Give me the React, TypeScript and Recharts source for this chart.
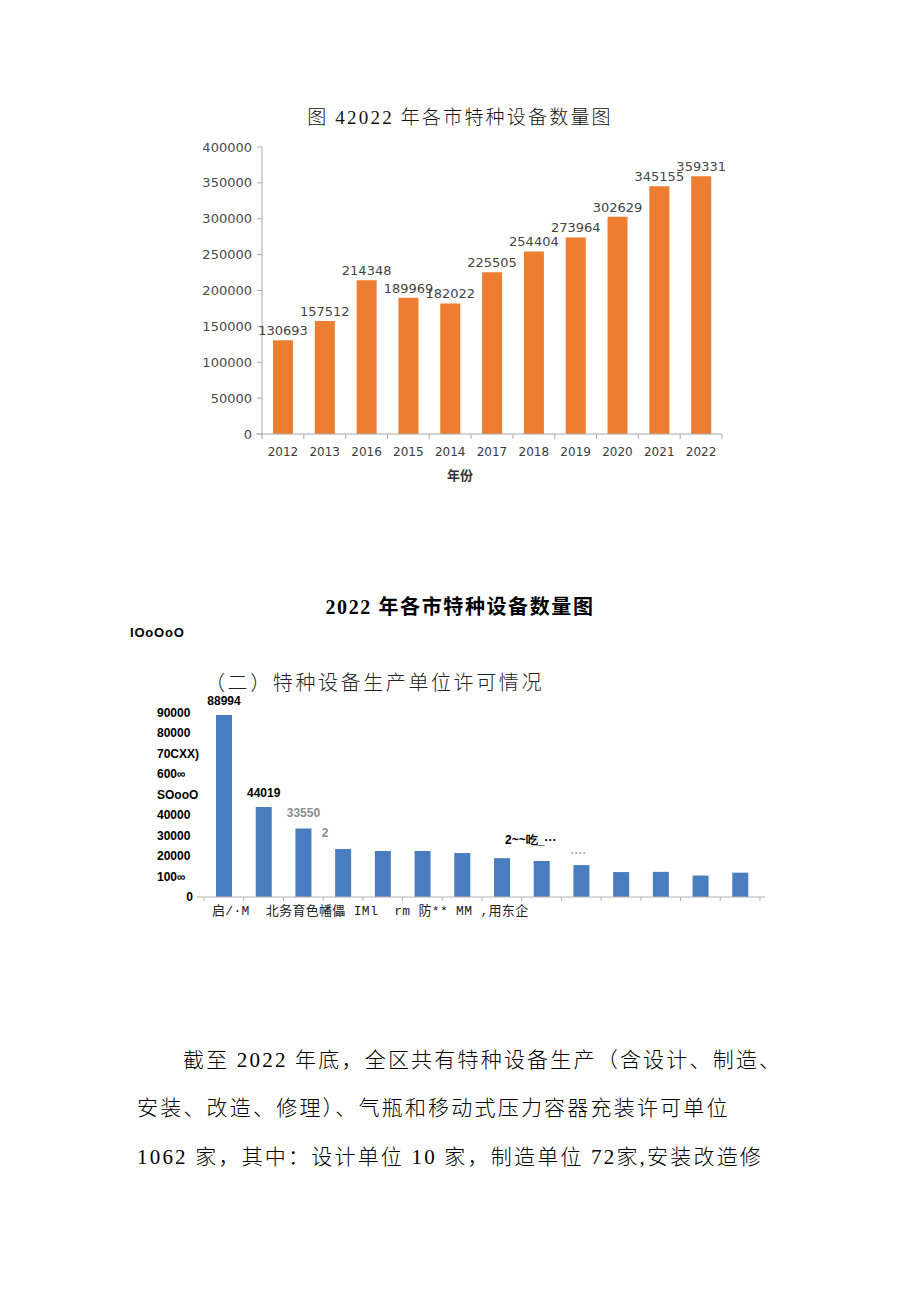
import React from 'react';
import { BarChart, Bar, XAxis, YAxis, LabelList } from 'recharts';

// ---------- Chart 1 data ----------
const YEARS = ['2012', '2013', '2016', '2015', '2014', '2017', '2018', '2019', '2020', '2021', '2022'];
const DEVICE_COUNTS = [130693, 157512, 214348, 189969, 182022, 225505, 254404, 273964, 302629, 345155, 359331];
const Y1_TICKS = [0, 50000, 100000, 150000, 200000, 250000, 300000, 350000, 400000];

// ---------- Chart 2 data ----------
const CITIES = ['c1', 'c2', 'c3', 'c4', 'c5', 'c6', 'c7', 'c8', 'c9', 'c10', 'c11', 'c12', 'c13', 'c14'];
const CITY_COUNTS = [88994, 44019, 33550, 23500, 22500, 22500, 21500, 19000, 17600, 15600, 12200, 12300, 10500, 11900];
const CITY_LABELS = ['88994', '44019', '33550', '2', '', '', '', '', '2~~吃_···', '····', '', '', '', ''];
const Y2_TICKS = [0, 10000, 20000, 30000, 40000, 50000, 60000, 70000, 80000, 90000];
const Y2_TICK_LABELS = ['0', '100∞', '20000', '30000', '40000', 'SOooO', '600∞', '70CXX)', '80000', '90000'];
const X2_TEXT = '启/·M  北务育色幡儡 IMl  rm 防** MM ,用东企';

// ---------- Body text ----------
const PARA_LINES = [
  '截至 2022 年底，全区共有特种设备生产（含设计、制造、',
  '安装、改造、修理）、气瓶和移动式压力容器充装许可单位',
  '1062 家，其中：设计单位 10 家，制造单位 72家,安装改造修',
];

const data1 = YEARS.map((y, i) => ({ year: y, value: DEVICE_COUNTS[i] }));
const data2 = CITIES.map((c, i) => ({ city: c, value: CITY_COUNTS[i], label: CITY_LABELS[i] }));

const SERIF_CJK = "'Liberation Serif', 'Noto Sans CJK SC', serif";

// label style tweaks for chart 2 (index -> style)
const LABEL2_STYLE: Record<number, { dx: number; up: number; fill: string }> = {
  0: { dx: 0, up: 10, fill: '#000' },
  1: { dx: 0, up: 10, fill: '#000' },
  2: { dx: 0, up: 11, fill: '#8c8c8c' },
  3: { dx: -18, up: 12, fill: '#8a8a8a' },
  8: { dx: -11, up: 17, fill: '#000' },
  9: { dx: -3, up: 8, fill: '#aaaaaa' },
};

const Abs: React.FC<{ x: number; y: number; style?: React.CSSProperties; children?: React.ReactNode }> = ({ x, y, style, children }) => (
  <div style={{ position: 'absolute', left: x - 8, top: y - 8, whiteSpace: 'pre', ...style }}>{children}</div>
);

// Category tick that also draws tick marks at band boundaries
const makeBoundaryTick = (opts: {
  count: number;
  stroke: string;
  markLen: number;
  extLeft: number;
  extRight: number;
  showText: boolean;
  textGap: number;
}) => (props: any) => {
  const { x, y, payload, index } = props;
  const half = payload.offset || 0;
  const left = x - half;
  const right = x + half;
  return (
    <g>
      <line x1={left} y1={y} x2={left} y2={y + opts.markLen} stroke={opts.stroke} />
      {index === opts.count - 1 && (
        <line x1={right} y1={y} x2={right} y2={y + opts.markLen} stroke={opts.stroke} />
      )}
      {index === 0 && opts.extLeft > 0 && (
        <line x1={left - opts.extLeft} y1={y} x2={left} y2={y} stroke={opts.stroke} />
      )}
      {index === opts.count - 1 && opts.extRight > 0 && (
        <line x1={right} y1={y} x2={right + opts.extRight} y2={y} stroke={opts.stroke} />
      )}
      {opts.showText && (
        <text x={x} y={y + opts.textGap} textAnchor="middle" fill="#3a3a3a" fontSize={12} fontFamily="DejaVu Sans">
          {payload.value}
        </text>
      )}
    </g>
  );
};

const X1Tick = makeBoundaryTick({ count: YEARS.length, stroke: '#a8a8a8', markLen: 5, extLeft: 6, extRight: 0, showText: true, textGap: 22 });
const X2Tick = makeBoundaryTick({ count: CITIES.length, stroke: '#b4b4b4', markLen: 4, extLeft: 7, extRight: 5, showText: false, textGap: 0 });

const Y2Tick = (props: any) => {
  const { x, y, payload } = props;
  const idx = Y2_TICKS.indexOf(payload.value);
  const text = Y2_TICK_LABELS[idx] ?? String(payload.value);
  const isZero = payload.value === 0;
  return (
    <text
      x={isZero ? x - 3 : x - 39}
      y={y}
      dy={4}
      textAnchor={isZero ? 'end' : 'start'}
      fontFamily="'Liberation Sans', Arial, sans-serif"
      fontWeight="bold"
      fontSize={12}
      fill="#000"
    >
      {text}
    </text>
  );
};

const Label2 = (props: any) => {
  const { x, y, width, index, value } = props;
  if (!value) return null;
  const st = LABEL2_STYLE[index] || { dx: 0, up: 10, fill: '#000' };
  return (
    <text
      x={x + width / 2 + st.dx}
      y={y - st.up}
      textAnchor="middle"
      fontFamily="'Liberation Sans', Arial, sans-serif"
      fontWeight="bold"
      fontSize={12}
      fill={st.fill}
    >
      {value}
    </text>
  );
};

export default function App() {
  return (
    <div style={{ position: 'relative', width: 904, height: 1285, background: '#fff' }}>
      {/* Chart 1 title */}
      <Abs x={0} y={106} style={{ width: 920, textAlign: 'center', fontFamily: SERIF_CJK, fontSize: 19, lineHeight: '24px', letterSpacing: 2.2, color: '#111', fontWeight: 300 }}>
        图 42022 年各市特种设备数量图
      </Abs>

      <div style={{ position: 'absolute', left: 190 - 8, top: 130 - 8 }}>
        <BarChart width={542} height={340} data={data1} margin={{ top: 17, right: 10, left: 0, bottom: 6 }}>
          <XAxis
            dataKey="year"
            height={30}
            stroke="#a8a8a8"
            tickLine={false}
            tickSize={0}
            tickMargin={0}
            interval={0}
            tick={<X1Tick />}
          />
          <YAxis
            width={72}
            domain={[0, 400000]}
            ticks={Y1_TICKS}
            interval={0}
            stroke="#a8a8a8"
            tickSize={5}
            tickMargin={5}
            tick={{ fill: '#4a4a4a', fontSize: 13, fontFamily: 'DejaVu Sans' }}
          />
          <Bar dataKey="value" fill="#ed7d31" barSize={20} isAnimationActive={false}>
            <LabelList dataKey="value" position="top" offset={5} fill="#444" fontSize={13} fontFamily="DejaVu Sans" />
          </Bar>
        </BarChart>
      </div>

      <Abs x={447} y={467} style={{ fontFamily: "'Noto Sans CJK SC', sans-serif", fontSize: 13, lineHeight: '16px', fontWeight: 'bold', color: '#333' }}>
        年份
      </Abs>

      {/* Chart 2 title */}
      <Abs x={0} y={594} style={{ width: 920, textAlign: 'center', fontFamily: SERIF_CJK, fontSize: 20, lineHeight: '26px', fontWeight: 'bold', letterSpacing: 1.6, color: '#000' }}>
        2022 年各市特种设备数量图
      </Abs>
      <Abs x={130} y={625} style={{ fontFamily: "'Liberation Sans', Arial, sans-serif", fontSize: 13, lineHeight: '16px', fontWeight: 'bold', letterSpacing: 0.8, color: '#000' }}>
        IOoOoO
      </Abs>
      <Abs x={205} y={670} style={{ fontFamily: SERIF_CJK, fontSize: 20, lineHeight: '26px', letterSpacing: 2.6, color: '#222', fontWeight: 300 }}>
        （二）特种设备生产单位许可情况
      </Abs>

      <div style={{ position: 'absolute', left: 140 - 8, top: 690 - 8 }}>
        <BarChart width={630} height={221} data={data2} margin={{ top: 23, right: 10, left: 0, bottom: 4 }}>
          <XAxis
            dataKey="city"
            height={10}
            stroke="#b4b4b4"
            tickLine={false}
            tickSize={0}
            tickMargin={0}
            interval={0}
            tick={<X2Tick />}
          />
          <YAxis
            width={64}
            domain={[0, 90000]}
            ticks={Y2_TICKS}
            interval={0}
            axisLine={false}
            tickLine={false}
            tick={<Y2Tick />}
          />
          <Bar dataKey="value" fill="#4a7dbf" barSize={16} isAnimationActive={false}>
            <LabelList dataKey="label" content={<Label2 />} />
          </Bar>
        </BarChart>
      </div>

      <Abs x={212} y={904} style={{ fontFamily: "'Liberation Mono', 'Noto Sans CJK SC', monospace", fontSize: 13, lineHeight: '16px', letterSpacing: 0.3, color: '#222' }}>
        {X2_TEXT}
      </Abs>

      {/* Paragraph */}
      {PARA_LINES.map((line, i) => (
        <Abs
          key={i}
          x={i === 0 ? 183 : 137}
          y={[1060, 1108, 1157][i] - 15}
          style={{ fontFamily: SERIF_CJK, fontSize: 21, lineHeight: '30px', letterSpacing: 2.2, color: '#000', fontWeight: 300 }}
        >
          {line}
        </Abs>
      ))}
    </div>
  );
}
